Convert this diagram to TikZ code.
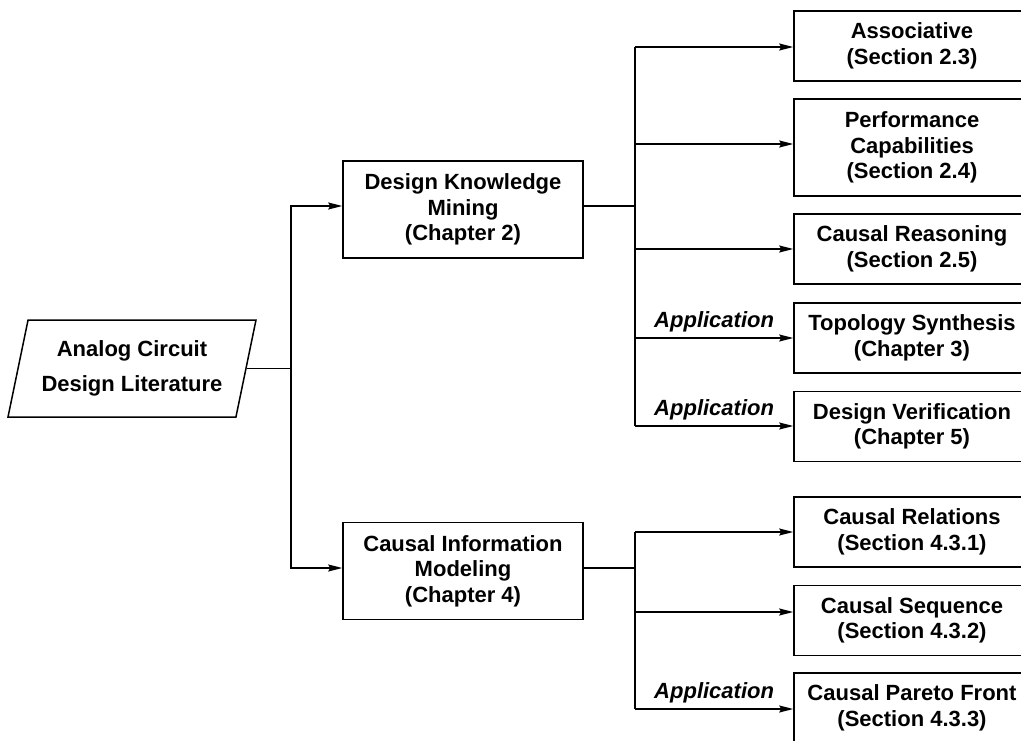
\documentclass[tikz,border=0pt]{standalone}
\usepackage{fontspec}
\setmainfont{Liberation Sans}
\usetikzlibrary{arrows.meta,shapes.geometric}
\begin{document}
\begin{tikzpicture}[x=1pt,y=-1pt,
  every node/.style={font=\fontsize{22}{25.5}\selectfont\bfseries},
  line/.style={line width=1.5pt},
  arr/.style={line, -{Stealth[length=14pt,width=7pt,inset=2pt]}},
  mainbox/.style={draw, line width=1.5pt, inner sep=0pt, align=center,
    minimum width=240, minimum height=97},
  sidebox/.style={draw, line width=1.5pt, inner sep=0pt, align=center,
    minimum width=236, minimum height=70},
  applabel/.style={font=\fontsize{22}{25.5}\selectfont\bfseries\itshape,
    anchor=base, yshift=11pt, inner sep=0pt}
]
\useasboundingbox (0,0) rectangle (1021,741);
\fill[white] (0,0) rectangle (1021,741);
\clip (0,0) rectangle (1021,741);

% source
\node[draw, line width=1.5pt, shape=trapezium, trapezium left angle=70,
  trapezium right angle=110, trapezium stretches body, inner sep=0pt,
  minimum width=248, minimum height=97, align=center]
  (lit) at (132,368.5) {Analog Circuit\\[9pt]Design Literature};

% main blocks
\node[mainbox] (dkm) at (463,209.5) {Design Knowledge\\Mining\\(Chapter 2)};
\node[mainbox] (cim) at (463,571) {Causal Information\\Modeling\\(Chapter 4)};

% right-hand blocks
\node[sidebox] (assoc)  at (912,46)    {Associative\\(Section 2.3)};
\node[sidebox, minimum height=97] (perf) at (912,147.5) {Performance\\Capabilities\\(Section 2.4)};
\node[sidebox] (reason) at (912,249)   {Causal Reasoning\\(Section 2.5)};
\node[sidebox] (topo)   at (912,338)   {Topology Synthesis\\(Chapter 3)};
\node[sidebox] (verif)  at (912,426.5) {Design Verification\\(Chapter 5)};
\node[sidebox] (rel)    at (912,532)   {Causal Relations\\(Section 4.3.1)};
\node[sidebox] (seq)    at (912,620.5) {Causal Sequence\\(Section 4.3.2)};
\node[sidebox] (pareto) at (912,708)   {Causal Pareto Front\\(Section 4.3.3)};

% left splitting trunk
\coordinate (k1) at (291,206);
\coordinate (k2) at (291,568);
\draw[line] (lit.east) -- (lit.east -| k1);
\draw[arr] (k1 |- lit.east) -- (k1) -- (dkm.west |- k1);
\draw[arr] (k1 |- lit.east) -- (k2) -- (cim.west |- k2);

% upper branch
\coordinate (t0) at (635,206);
\coordinate (t1) at (635,47);
\coordinate (t2) at (635,144);
\coordinate (t3) at (635,249);
\coordinate (t4) at (635,338);
\coordinate (t5) at (635,426);
\draw[line] (dkm.east |- t0) -- (t0);
\draw[line] (t1) -- (t5);
\draw[arr] (t1) -- (assoc.west |- t1);
\draw[arr] (t2) -- (perf.west |- t2);
\draw[arr] (t3) -- (reason.west |- t3);
\draw[arr] (t4) -- node[applabel] {Application} (topo.west |- t4);
\draw[arr] (t5) -- node[applabel] {Application} (verif.west |- t5);

% lower branch
\coordinate (u0) at (635,568);
\coordinate (u1) at (635,532);
\coordinate (u2) at (635,612);
\coordinate (u3) at (635,709);
\draw[line] (cim.east |- u0) -- (u0);
\draw[line] (u1) -- (u3);
\draw[arr] (u1) -- (rel.west |- u1);
\draw[arr] (u2) -- (seq.west |- u2);
\draw[arr] (u3) -- node[applabel] {Application} (pareto.west |- u3);
\end{tikzpicture}
\end{document}
